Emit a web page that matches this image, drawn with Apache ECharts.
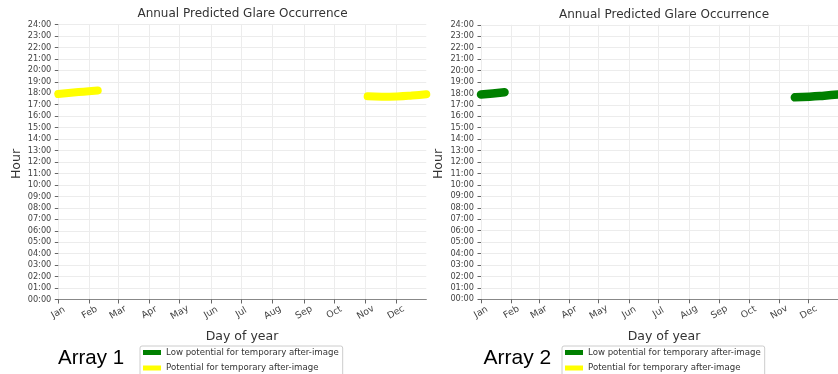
<!DOCTYPE html>
<html>
<head>
<meta charset="utf-8">
<script src="https://cdn.jsdelivr.net/npm/echarts@6/dist/echarts.min.js"></script>
<style>
html,body{margin:0;padding:0;background:#fff;}
#c{width:838px;height:374px;}
</style>
</head>
<body>
<div id="c"></div>
<script>
// ---- data ----
const monthLabels = ['Jan','Feb','Mar','Apr','May','Jun','Jul','Aug','Sep','Oct','Nov','Dec'];
const monthStartDay = [0,31,59,90,120,151,181,212,243,273,304,334];
const hourTicks = ['00:00','01:00','02:00','03:00','04:00','05:00','06:00','07:00','08:00','09:00','10:00','11:00','12:00','13:00','14:00','15:00','16:00','17:00','18:00','19:00','20:00','21:00','22:00','23:00','24:00'];
const seriesNames = ['Low potential for temporary after-image','Potential for temporary after-image'];
const seriesColors = ['#008000','#ffff00'];
// [day index, hour of day]
const array1PotentialJan = [[0,17.93],[10,18.02],[20,18.1],[30,18.17],[39,18.24]];
const array1PotentialNov = [[306,17.73],[320,17.7],[335,17.72],[350,17.8],[364,17.92]];
const array2LowJan = [[0,17.9],[12,18.0],[24,18.1]];
const array2LowNov = [[320,17.66],[335,17.71],[350,17.8],[364,17.9]];

// ---- build ----
const dayCats = [];
for (let i = 0; i < 365; i++) dayCats.push(String(i + 1));
const monthLabelAt = {};
monthStartDay.forEach((d, i) => { monthLabelAt[d] = monthLabels[i]; });
const isMonthStart = (idx) => monthLabelAt[idx] !== undefined;

const FONT = 'DejaVu Sans';
const grids = [
  {left: 58.3, top: 24.5, width: 368, height: 275},
  {left: 481, top: 24.8, width: 366, height: 274.5}
];

function xAxisFor(gi) {
  return {
    type: 'category', gridIndex: gi, data: dayCats, boundaryGap: false,
    axisLine: {show: true, lineStyle: {color: '#888', width: 1.2}},
    axisTick: {show: true, length: 4, interval: (i) => isMonthStart(i), lineStyle: {color: '#666'}},
    axisLabel: {
      interval: (i) => isMonthStart(i),
      formatter: (v, i) => monthLabelAt[i] || '',
      rotate: 30, align: 'center', verticalAlign: 'middle', margin: 13,
      fontFamily: FONT, fontSize: 9.3, color: '#444'
    },
    splitLine: {show: true, interval: (i) => isMonthStart(i), lineStyle: {color: '#ececec', width: 1}}
  };
}
function yAxisFor(gi) {
  return {
    type: 'value', gridIndex: gi, min: 0, max: 24, interval: 1,
    axisLine: {show: false},
    axisTick: {show: true, length: 3.5, lineStyle: {color: '#666'}},
    axisLabel: {formatter: (v) => hourTicks[v], margin: 7, fontFamily: FONT, fontSize: 8.2, color: '#444'},
    splitLine: {show: true, lineStyle: {color: '#ececec', width: 1}}
  };
}
function band(name, color, data, gi, w) {
  return {
    type: 'line', name: name, xAxisIndex: gi, yAxisIndex: gi, data: data,
    smooth: true, showSymbol: false, symbol: 'none', clip: true,
    itemStyle: {color: color},
    lineStyle: {color: color, width: w, cap: 'round', join: 'round'}
  };
}
function legendFor(left) {
  return {
    orient: 'vertical', left: left, top: 346, height: 40,
    data: seriesNames.map(n => ({name: n, icon: 'rect'})),
    itemWidth: 18, itemHeight: 5, itemGap: 4.5,
    selectedMode: false,
    borderColor: '#cccccc', borderWidth: 1, borderRadius: 2,
    padding: [1, 4, 3, 3],
    textStyle: {fontFamily: FONT, fontSize: 8.6, color: '#333', lineHeight: 11}
  };
}
function txt(x, y, s, size, extra) {
  return Object.assign({
    type: 'text', x: x, y: y,
    style: {text: s, fontFamily: FONT, fontSize: size, fill: '#333', align: 'center', verticalAlign: 'middle'}
  }, extra || {});
}

const option = {
  animation: false,
  backgroundColor: '#ffffff',
  grid: grids,
  xAxis: [xAxisFor(0), xAxisFor(1)],
  yAxis: [yAxisFor(0), yAxisFor(1)],
  legend: [legendFor(140), legendFor(562)],
  series: [
    band(seriesNames[0], seriesColors[0], [], 0, 8),
    band(seriesNames[1], seriesColors[1], array1PotentialJan, 0, 8),
    band(seriesNames[1], seriesColors[1], array1PotentialNov, 0, 8),
    band(seriesNames[0], seriesColors[0], array2LowJan, 1, 8.5),
    band(seriesNames[0], seriesColors[0], array2LowNov, 1, 8.5),
    band(seriesNames[1], seriesColors[1], [], 1, 8)
  ],
  graphic: [
    txt(242.5, 14, 'Annual Predicted Glare Occurrence', 12),
    txt(664, 15, 'Annual Predicted Glare Occurrence', 12),
    txt(242, 336.5, 'Day of year', 12.5),
    txt(664, 337, 'Day of year', 12.5),
    txt(16.5, 164, 'Hour', 12.5, {rotation: Math.PI / 2}),
    txt(438.5, 164, 'Hour', 12.5, {rotation: Math.PI / 2}),
    {type: 'text', x: 58, y: 358, style: {text: 'Array 1', fontFamily: 'Liberation Sans', fontSize: 20.5, fill: '#000', align: 'left', verticalAlign: 'middle'}},
    {type: 'text', x: 483.5, y: 358.5, style: {text: 'Array 2', fontFamily: 'Liberation Sans', fontSize: 21, fill: '#000', align: 'left', verticalAlign: 'middle'}}
  ]
};
const chart = echarts.init(document.getElementById('c'), null, {renderer: 'canvas'});
chart.setOption(option);
</script>
</body>
</html>
